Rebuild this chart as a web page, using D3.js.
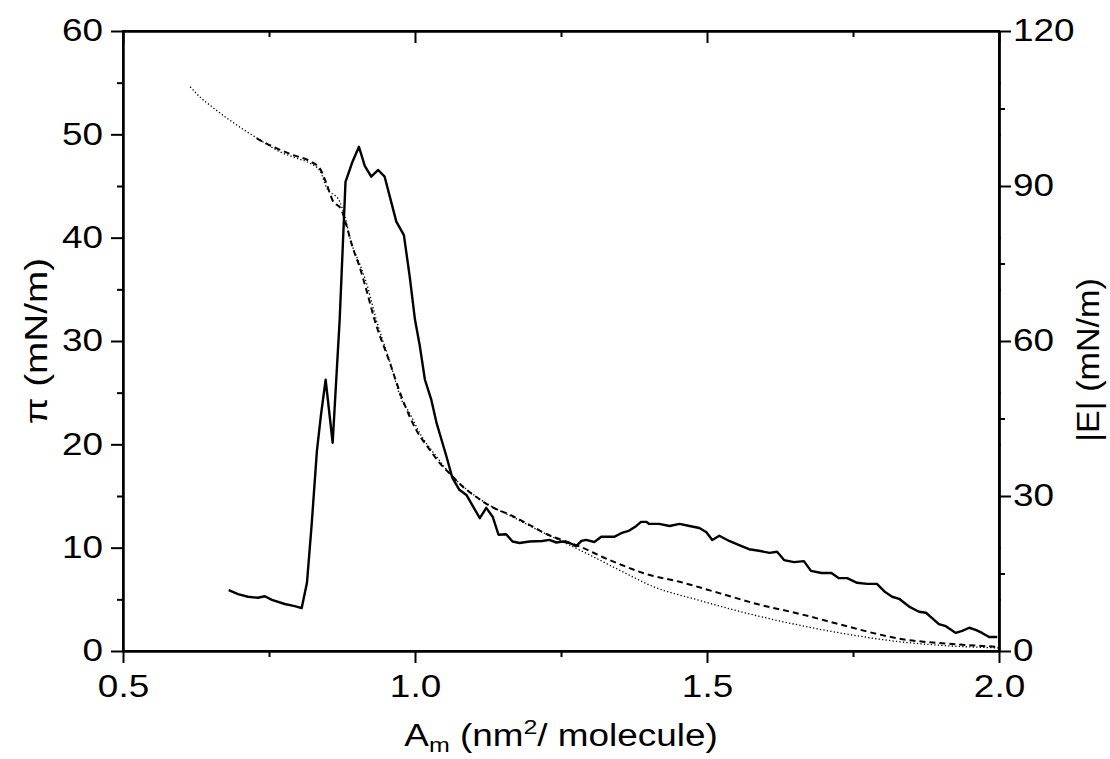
<!DOCTYPE html>
<html>
<head>
<meta charset="utf-8">
<script src="https://cdnjs.cloudflare.com/ajax/libs/d3/7.8.5/d3.min.js"></script>
<style>
	body { margin: 0; background: #fff; }
	text { font-family: "Liberation Sans", Arial, sans-serif; fill: #000; }
</style>
</head>
<body>
<div id="chart"></div>
<script>
// |E| (right axis), solid line
const modArea = [0.681, 0.697, 0.714, 0.731, 0.743, 0.755, 0.777, 0.794, 0.806, 0.815, 0.823, 0.832, 0.839, 0.847, 0.859, 0.871, 0.881, 0.893, 0.904, 0.914, 0.925, 0.937, 0.948, 0.957, 0.968, 0.981, 0.991, 1.0, 1.008, 1.017, 1.028, 1.037, 1.054, 1.064, 1.076, 1.088, 1.111, 1.122, 1.133, 1.143, 1.156, 1.167, 1.179, 1.196, 1.218, 1.23, 1.242, 1.253, 1.265, 1.276, 1.285, 1.293, 1.307, 1.319, 1.33, 1.341, 1.353, 1.367, 1.379, 1.387, 1.396, 1.401, 1.418, 1.436, 1.453, 1.47, 1.487, 1.499, 1.509, 1.521, 1.538, 1.555, 1.572, 1.589, 1.607, 1.62, 1.632, 1.649, 1.666, 1.678, 1.696, 1.713, 1.726, 1.74, 1.757, 1.774, 1.791, 1.805, 1.817, 1.829, 1.846, 1.863, 1.875, 1.885, 1.897, 1.909, 1.926, 1.937, 1.949, 1.96, 1.971, 1.983, 1.997];
const modValue = [11.8, 11.0, 10.5, 10.3, 10.6, 9.9, 9.1, 8.7, 8.3, 13.2, 24.4, 38.7, 45.7, 52.5, 40.3, 64.1, 90.8, 94.7, 97.6, 93.9, 91.8, 93.1, 91.8, 87.9, 83.1, 80.5, 72.4, 64.1, 59.2, 52.5, 48.6, 44.1, 37.6, 33.5, 31.2, 30.2, 25.7, 27.7, 26.0, 22.5, 22.6, 21.2, 20.9, 21.2, 21.3, 21.5, 21.0, 21.2, 20.9, 20.3, 21.3, 21.5, 21.1, 22.1, 22.1, 22.1, 22.8, 23.3, 24.2, 25.0, 25.0, 24.6, 24.6, 24.2, 24.6, 24.2, 23.8, 23.0, 21.5, 22.3, 21.3, 20.5, 19.7, 19.4, 19.0, 19.2, 17.6, 17.2, 17.4, 15.5, 15.1, 15.1, 14.1, 14.1, 13.2, 13.0, 13.0, 11.4, 10.5, 10.1, 8.6, 7.6, 7.4, 6.4, 5.2, 4.8, 3.5, 3.9, 4.5, 4.1, 3.5, 2.7, 2.7];

// pi (left axis), dashed line
const dashArea = [0.729, 0.757, 0.791, 0.82, 0.837, 0.848, 0.859, 0.874, 0.883, 0.893, 0.905, 0.917, 0.931, 0.955, 0.979, 1.002, 1.025, 1.042, 1.059, 1.082, 1.105, 1.133, 1.162, 1.196, 1.23, 1.259, 1.287, 1.321, 1.355, 1.393, 1.453, 1.521, 1.589, 1.658, 1.726, 1.795, 1.829, 1.914, 2.0];
const dashPi = [49.6, 48.8, 48.0, 47.4, 46.7, 45.3, 43.6, 42.7, 41.1, 39.1, 37.2, 34.9, 32.0, 28.2, 24.3, 21.4, 19.5, 18.2, 17.2, 15.9, 14.9, 13.9, 13.2, 12.2, 11.2, 10.6, 10.0, 9.1, 8.3, 7.5, 6.7, 5.6, 4.5, 3.6, 2.6, 1.6, 1.2, 0.7, 0.4];

// pi (left axis), dotted line
const dotArea = [0.615, 0.632, 0.654, 0.677, 0.7, 0.722, 0.739, 0.769, 0.797, 0.82, 0.837, 0.848, 0.871, 0.88, 0.891, 0.905, 0.917, 0.934, 0.957, 0.977, 0.991, 1.008, 1.037, 1.064, 1.094, 1.128, 1.173, 1.218, 1.259, 1.299, 1.344, 1.379, 1.401, 1.487, 1.572, 1.658, 1.743, 1.829, 1.914, 2.0];
const dotPi = [54.6, 53.6, 52.6, 51.6, 50.7, 49.9, 49.3, 48.3, 47.7, 47.2, 46.5, 44.9, 43.5, 42.0, 39.5, 37.5, 35.6, 32.0, 28.0, 24.3, 23.0, 21.1, 18.8, 16.9, 15.4, 14.1, 12.8, 11.5, 10.4, 9.3, 8.0, 7.0, 6.4, 4.9, 3.6, 2.5, 1.6, 0.9, 0.5, 0.3];

const xTicks = [0.5, 1.0, 1.5, 2.0];
const xMinor = [0.75, 1.25, 1.75];
const leftTicks = [0, 10, 20, 30, 40, 50, 60];
const leftMinor = [5, 15, 25, 35, 45, 55];
const rightTicks = [0, 30, 60, 90, 120];
const rightMinor = [15, 45, 75, 105];

const w = 1110;
const h = 759;
const plotLeft = 123;
const plotRight = 999;
const plotTop = 31;
const plotBottom = 651;
const stretch = 1.19; // the original lettering is a bit wider than Arial

const xScale = d3.scaleLinear().domain([0.5, 2.0]).range([plotLeft, plotRight]);
const yLeft = d3.scaleLinear().domain([0, 60]).range([plotBottom, plotTop]);
const yRight = d3.scaleLinear().domain([0, 120]).range([plotBottom, plotTop]);

const svg = d3
	.select("#chart")
	.append("svg")
	.attr("width", w)
	.attr("height", h);

const fmt = d3.format(".1f");

// bottom axis
const xAxisG = svg
	.append("g")
	.attr("transform", "translate(0," + plotBottom + ")")
	.call(d3.axisBottom(xScale).tickValues(xTicks).tickFormat(fmt).tickSize(12).tickPadding(13).tickSizeOuter(0));
svg
	.append("g")
	.attr("transform", "translate(0," + plotBottom + ")")
	.call(d3.axisBottom(xScale).tickValues(xMinor).tickFormat("").tickSize(6).tickSizeOuter(0));

// top axis, ticks inward
svg
	.append("g")
	.attr("transform", "translate(0," + plotTop + ")")
	.call(d3.axisBottom(xScale).tickValues(xTicks).tickFormat("").tickSize(12).tickSizeOuter(0));
svg
	.append("g")
	.attr("transform", "translate(0," + plotTop + ")")
	.call(d3.axisBottom(xScale).tickValues(xMinor).tickFormat("").tickSize(6).tickSizeOuter(0));

// left axis
const yLeftG = svg
	.append("g")
	.attr("transform", "translate(" + plotLeft + ",0)")
	.call(d3.axisLeft(yLeft).tickValues(leftTicks).tickSize(12).tickSizeOuter(0));
svg
	.append("g")
	.attr("transform", "translate(" + plotLeft + ",0)")
	.call(d3.axisLeft(yLeft).tickValues(leftMinor).tickFormat("").tickSize(6).tickSizeOuter(0));

// right axis
const yRightG = svg
	.append("g")
	.attr("transform", "translate(" + plotRight + ",0)")
	.call(d3.axisRight(yRight).tickValues(rightTicks).tickSize(12).tickSizeOuter(0));
svg
	.append("g")
	.attr("transform", "translate(" + plotRight + ",0)")
	.call(d3.axisRight(yRight).tickValues(rightMinor).tickFormat("").tickSize(6).tickSizeOuter(0));
svg
	.append("g")
	.attr("transform", "translate(" + plotRight + ",0)")
	.call(d3.axisRight(yLeft).tickValues(leftMinor.concat([50, 40, 20, 10])).tickFormat("").tickSize(2).tickSizeOuter(0));

svg.selectAll(".domain").attr("stroke", "#000").attr("stroke-width", 2);
svg.selectAll(".tick line").attr("stroke", "#000").attr("stroke-width", 2);
svg
	.selectAll(".tick text")
	.style("font-family", "'Liberation Sans', Arial, sans-serif")
	.style("font-size", "31px")
	.attr("fill", "#000")
	.attr("transform", "scale(" + stretch + ",1)");
xAxisG.selectAll(".tick text").attr("y", 24);
yLeftG.selectAll(".tick text").attr("x", -20 / stretch);
yRightG.selectAll(".tick text").attr("x", 14 / stretch);

// frame
svg
	.append("rect")
	.attr("x", plotLeft)
	.attr("y", plotTop)
	.attr("width", plotRight - plotLeft)
	.attr("height", plotBottom - plotTop)
	.attr("fill", "none")
	.attr("stroke", "#000")
	.attr("stroke-width", 2);

const dotted = dotArea.map((a, i) => [a, dotPi[i]]);
const dashed = dashArea.map((a, i) => [a, dashPi[i]]);
const modulus = modArea.map((a, i) => [a, modValue[i]]);

const smoothLeft = d3
	.line()
	.curve(d3.curveMonotoneX)
	.x((d) => xScale(d[0]))
	.y((d) => yLeft(d[1]));
const lineRight = d3
	.line()
	.x((d) => xScale(d[0]))
	.y((d) => yRight(d[1]));

svg
	.append("path")
	.datum(dotted)
	.attr("d", smoothLeft)
	.attr("fill", "none")
	.attr("stroke", "#000")
	.attr("stroke-width", 1.3)
	.attr("stroke-dasharray", "1.3,2.2");

svg
	.append("path")
	.datum(dashed)
	.attr("d", smoothLeft)
	.attr("fill", "none")
	.attr("stroke", "#000")
	.attr("stroke-width", 2)
	.attr("stroke-dasharray", "6,4");

svg
	.append("path")
	.datum(modulus)
	.attr("d", lineRight)
	.attr("fill", "none")
	.attr("stroke", "#000")
	.attr("stroke-width", 2.4)
	.attr("stroke-linejoin", "round");

// axis titles
const xTitle = svg
	.append("text")
	.attr("transform", "translate(561,746) scale(" + stretch + ",1)")
	.attr("text-anchor", "middle")
	.style("font-size", "31px");
xTitle.append("tspan").text("A");
xTitle.append("tspan").attr("dy", 6).style("font-size", "21px").text("m");
xTitle.append("tspan").attr("dy", -6).text(" (nm");
xTitle.append("tspan").attr("dy", -12).style("font-size", "21px").text("2");
xTitle.append("tspan").attr("dy", 12).text("/ molecule)");

svg
	.append("text")
	.attr("transform", "translate(47,341) rotate(-90) scale(1.25,1)")
	.attr("text-anchor", "middle")
	.style("font-size", "31px")
	.text("π (mN/m)");

svg
	.append("text")
	.attr("transform", "translate(1099,360) rotate(-90) scale(1.1,1)")
	.attr("text-anchor", "middle")
	.style("font-size", "31px")
	.text("|E| (mN/m)");
</script>
</body>
</html>
